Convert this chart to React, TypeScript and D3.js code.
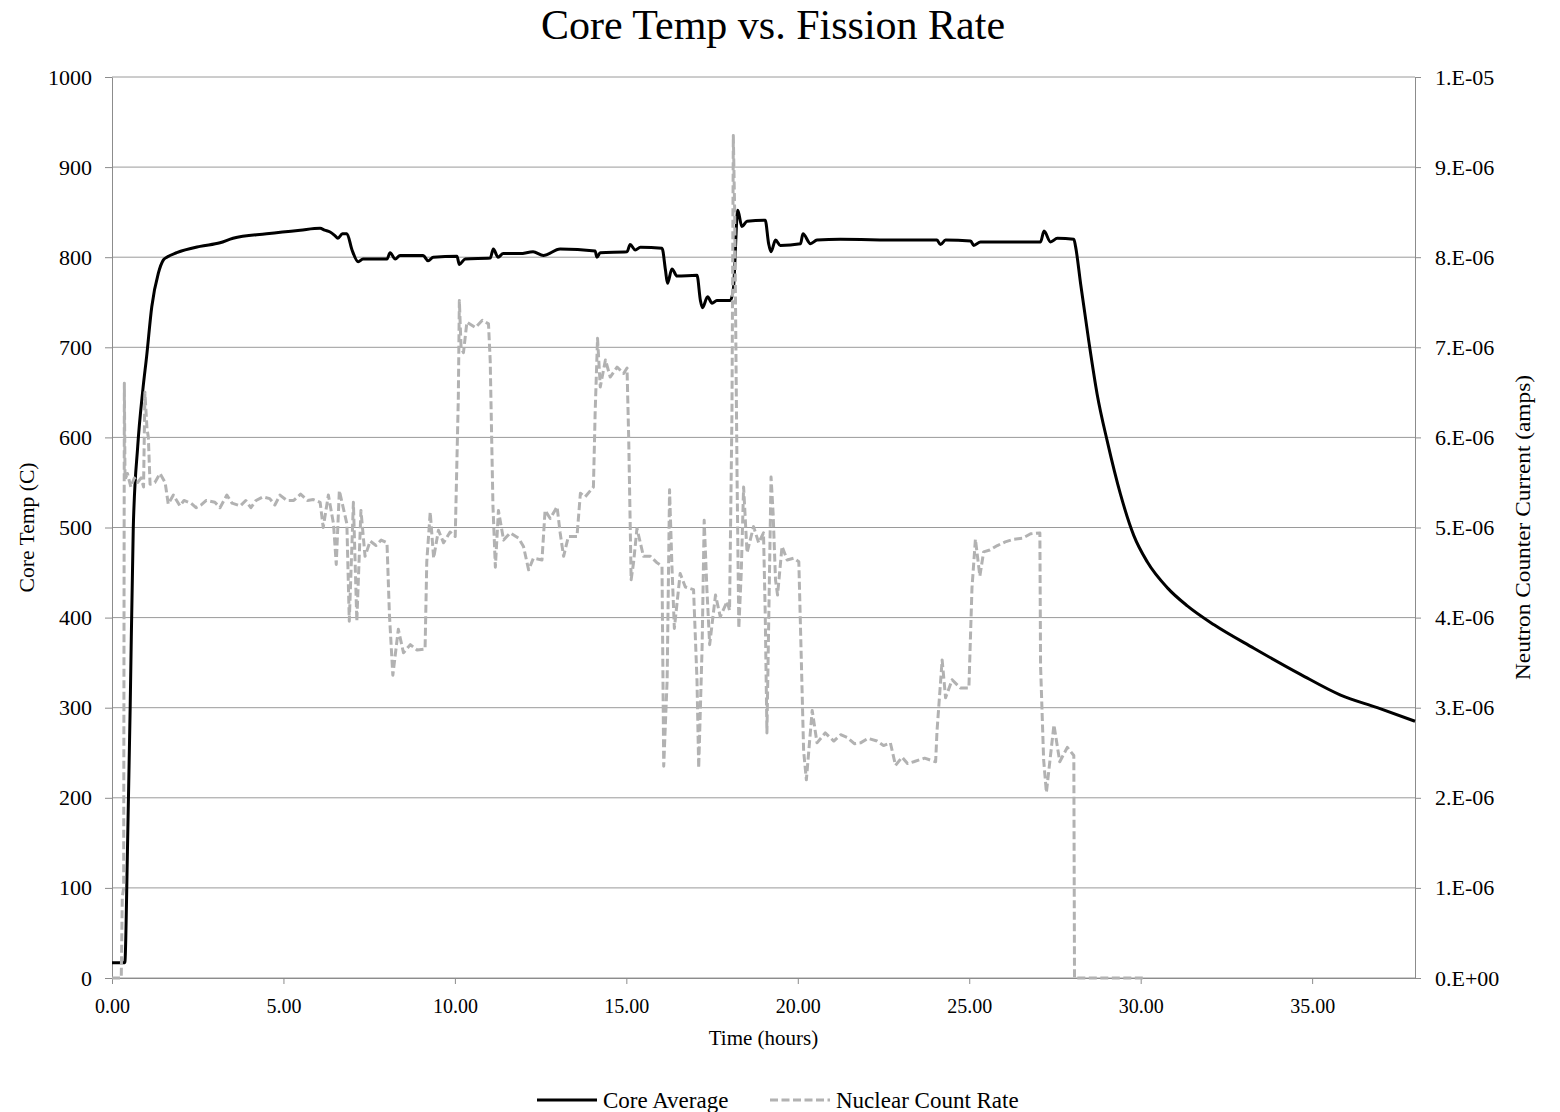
import * as React from 'react';
import * as d3 from 'd3';

// Core Average temperature (C) vs time (hours)
const coreHours = [0, 0.37, 0.38, 0.45, 0.53, 0.62, 0.75, 0.9, 1.01, 1.16, 1.35, 1.5, 1.6, 1.89, 2.57, 3.15, 3.53, 4.51, 5.49, 6.07, 6.2, 6.36, 6.5, 6.59, 6.72, 6.85, 7.0, 7.18, 7.32, 8.02, 8.11, 8.26, 8.4, 9.07, 9.22, 9.37, 10.06, 10.13, 10.3, 11.03, 11.12, 11.26, 11.41, 11.9, 12.28, 12.58, 13.07, 14.09, 14.14, 14.24, 15.02, 15.11, 15.26, 15.41, 16.04, 16.14, 16.2, 16.33, 16.48, 17.06, 17.16, 17.22, 17.37, 17.5, 17.64, 18.03, 18.12, 18.25, 18.37, 18.52, 19.05, 19.15, 19.22, 19.35, 19.49, 20.08, 20.15, 20.37, 20.56, 21.24, 23.0, 24.06, 24.16, 24.31, 25.04, 25.13, 25.33, 27.08, 27.18, 27.37, 27.57, 28.05, 28.1, 28.25, 28.49, 28.73, 29.03, 29.41, 29.8, 30.19, 30.78, 31.36, 32.14, 33.3, 34.66, 35.83, 36.9, 38.0];
const coreTemp = [17, 17, 19, 140, 300, 499, 590, 653, 690, 745, 782, 797, 800, 805, 812, 816, 821, 826, 830, 832, 830, 828, 824, 821, 826, 826, 808, 795, 798, 798, 805, 798, 802, 802, 796, 800, 801, 792, 798, 799, 809, 800, 804, 804, 806, 802, 809, 807, 800, 805, 806, 814, 808, 811, 810, 786, 771, 787, 779, 780, 752, 744, 756, 749, 752, 752, 764, 852, 834, 840, 841, 815, 806, 819, 813, 815, 826, 815, 819, 820, 819, 819, 814, 819, 818, 813, 817, 817, 829, 817, 821, 820, 812, 770, 706, 648, 595, 537, 491, 462, 433, 413, 392, 366, 337, 314, 300, 285];

// Nuclear Count Rate, neutron counter current in units of 1E-06 amps
const countHours = [0, 0.27, 0.3, 0.34, 0.36, 0.38, 0.45, 0.55, 0.65, 0.75, 0.85, 0.92, 0.96, 1.02, 1.06, 1.11, 1.25, 1.4, 1.55, 1.64, 1.79, 1.98, 2.1, 2.3, 2.45, 2.6, 2.75, 3.0, 3.15, 3.35, 3.5, 3.74, 3.9, 4.05, 4.2, 4.4, 4.6, 4.75, 4.9, 5.1, 5.3, 5.5, 5.7, 5.87, 6.07, 6.16, 6.31, 6.46, 6.54, 6.63, 6.85, 6.92, 7.04, 7.14, 7.26, 7.38, 7.53, 7.7, 7.85, 8.02, 8.09, 8.19, 8.35, 8.5, 8.7, 8.9, 9.13, 9.18, 9.28, 9.38, 9.52, 9.67, 9.86, 10.01, 10.1, 10.13, 10.18, 10.25, 10.35, 10.6, 10.8, 10.98, 11.03, 11.11, 11.18, 11.27, 11.42, 11.61, 11.86, 12.0, 12.15, 12.29, 12.54, 12.63, 12.78, 12.98, 13.07, 13.17, 13.31, 13.56, 13.66, 13.8, 14.04, 14.09, 14.16, 14.24, 14.39, 14.53, 14.73, 14.92, 15.02, 15.07, 15.14, 15.21, 15.31, 15.5, 15.7, 15.89, 16.04, 16.09, 16.19, 16.26, 16.33, 16.4, 16.57, 16.72, 16.96, 17.06, 17.11, 17.21, 17.27, 17.35, 17.43, 17.6, 17.74, 17.94, 18.01, 18.08, 18.12, 18.16, 18.23, 18.28, 18.35, 18.42, 18.52, 18.71, 18.86, 19.0, 19.05, 19.1, 19.22, 19.28, 19.35, 19.41, 19.54, 19.69, 19.88, 20.03, 20.08, 20.17, 20.25, 20.42, 20.56, 20.8, 21.05, 21.25, 21.44, 21.65, 21.83, 22.05, 22.31, 22.5, 22.7, 22.85, 23.04, 23.2, 23.38, 23.7, 24.02, 24.06, 24.21, 24.31, 24.5, 24.74, 24.99, 25.08, 25.18, 25.31, 25.42, 25.6, 25.82, 26.05, 26.3, 26.55, 26.79, 27.06, 27.08, 27.17, 27.25, 27.47, 27.64, 27.86, 28.05, 28.07, 30.1];
const countCurrent = [0, 0, 0.9, 1.0, 6.6, 5.53, 5.6, 5.45, 5.55, 5.5, 5.55, 5.45, 6.5, 6.1, 6.0, 5.48, 5.5, 5.6, 5.5, 5.26, 5.36, 5.24, 5.3, 5.27, 5.22, 5.25, 5.3, 5.28, 5.22, 5.36, 5.27, 5.24, 5.3, 5.22, 5.3, 5.34, 5.32, 5.25, 5.36, 5.3, 5.3, 5.37, 5.3, 5.31, 5.28, 5.0, 5.36, 5.04, 4.59, 5.41, 5.04, 3.96, 5.28, 3.96, 5.19, 4.68, 4.85, 4.8, 4.86, 4.83, 4.04, 3.36, 3.87, 3.61, 3.7, 3.64, 3.65, 4.62, 5.17, 4.66, 4.97, 4.83, 4.95, 4.9, 6.44, 7.52, 7.0, 6.94, 7.28, 7.22, 7.3, 7.26, 6.85, 5.24, 4.56, 5.19, 4.86, 4.94, 4.88, 4.79, 4.53, 4.66, 4.64, 5.19, 5.1, 5.23, 4.94, 4.68, 4.9, 4.9, 5.38, 5.34, 5.45, 6.27, 7.1, 6.56, 6.86, 6.67, 6.78, 6.71, 6.77, 5.97, 4.42, 4.61, 4.99, 4.68, 4.68, 4.61, 4.57, 2.35, 3.31, 5.42, 4.57, 3.88, 4.49, 4.34, 4.31, 3.31, 2.33, 3.68, 5.08, 4.31, 3.7, 4.25, 4.01, 4.18, 4.08, 6.27, 9.35, 8.5, 5.53, 3.88, 4.49, 5.45, 4.72, 5.01, 4.83, 4.94, 4.05, 2.72, 5.56, 5.16, 4.42, 4.25, 4.79, 4.64, 4.66, 4.62, 3.87, 2.52, 2.2, 2.97, 2.61, 2.72, 2.63, 2.7, 2.67, 2.6, 2.61, 2.66, 2.63, 2.58, 2.61, 2.36, 2.45, 2.38, 2.4, 2.44, 2.4, 2.74, 3.53, 3.11, 3.31, 3.22, 3.22, 4.33, 4.87, 4.46, 4.73, 4.75, 4.8, 4.84, 4.87, 4.88, 4.93, 4.94, 3.47, 2.42, 2.06, 2.81, 2.4, 2.56, 2.47, 0, 0];

const hourTicks = [0, 5, 10, 15, 20, 25, 30, 35];
const tempTicks = [0, 100, 200, 300, 400, 500, 600, 700, 800, 900, 1000];
const currentTicks = [0, 1, 2, 3, 4, 5, 6, 7, 8, 9, 10];
const currentLabels = ['0.E+00', '1.E-06', '2.E-06', '3.E-06', '4.E-06', '5.E-06', '6.E-06', '7.E-06', '8.E-06', '9.E-06', '1.E-05'];

const FONT = '"Liberation Serif", "Times New Roman", serif';
const GREY = '#b2b2b2';

export default function App() {
  const ref = React.useRef<SVGSVGElement>(null);

  React.useEffect(() => {
    const width = 1560;
    const height = 1112;
    const margin = { top: 77, right: 145, bottom: 134, left: 112 };
    const innerW = width - margin.left - margin.right;
    const innerH = height - margin.top - margin.bottom;

    const svg = d3.select(ref.current);
    svg.selectAll('*').remove();

    const x = d3.scaleLinear().domain([0, 38]).range([0, innerW]);
    const y = d3.scaleLinear().domain([0, 1000]).range([innerH, 0]);
    const yR = d3.scaleLinear().domain([0, 10]).range([innerH, 0]);

    const g = svg.append('g').attr('transform', `translate(${margin.left}, ${margin.top})`);

    // horizontal gridlines
    g.selectAll('.grid')
      .data(tempTicks)
      .enter()
      .append('line')
      .attr('class', 'grid')
      .attr('x1', 0)
      .attr('x2', innerW)
      .attr('y1', (d) => y(d))
      .attr('y2', (d) => y(d))
      .attr('stroke', '#9a9a9a')
      .attr('stroke-width', 1);

    const styleAxis = (sel, size) => {
      sel.attr('font-family', FONT).attr('font-size', size);
      sel.selectAll('path').attr('stroke', '#8c8c8c');
      sel.selectAll('line').attr('stroke', '#8c8c8c');
      sel.selectAll('text').attr('fill', '#000');
    };

    const xAxis = d3.axisBottom(x)
      .tickValues(hourTicks)
      .tickFormat((d: any) => d3.format('.2f')(d))
      .tickSize(6)
      .tickSizeOuter(0)
      .tickPadding(15);
    g.append('g').attr('transform', `translate(0, ${innerH})`).call(xAxis).call(styleAxis, 20);

    const yAxis = d3.axisLeft(y)
      .tickValues(tempTicks)
      .tickFormat((d: any) => String(d))
      .tickSize(7)
      .tickSizeOuter(0)
      .tickPadding(13);
    g.append('g').call(yAxis).call(styleAxis, 22);

    const yAxisR = d3.axisRight(yR)
      .tickValues(currentTicks)
      .tickFormat((d: any, i: number) => currentLabels[i])
      .tickSize(6)
      .tickSizeOuter(0)
      .tickPadding(14);
    g.append('g').attr('transform', `translate(${innerW}, 0)`).call(yAxisR).call(styleAxis, 22);

    // series
    const coreLine = d3.line<number>()
      .x((d, i) => x(coreHours[i]))
      .y((d) => y(d))
      .curve(d3.curveMonotoneX);
    g.append('path')
      .attr('d', coreLine(coreTemp))
      .attr('fill', 'none')
      .attr('stroke', '#000')
      .attr('stroke-width', 3)
      .attr('stroke-linejoin', 'round');

    const countLine = d3.line<number>()
      .x((d, i) => x(countHours[i]))
      .y((d) => yR(d));
    g.append('path')
      .attr('d', countLine(countCurrent))
      .attr('fill', 'none')
      .attr('stroke', GREY)
      .attr('stroke-width', 3)
      .attr('stroke-dasharray', '8,3.5')
      .attr('stroke-linejoin', 'round');

    // titles
    svg.append('text')
      .attr('x', 773)
      .attr('y', 39)
      .attr('text-anchor', 'middle')
      .attr('font-family', FONT)
      .attr('font-size', 42)
      .text('Core Temp vs. Fission Rate');

    svg.append('text')
      .attr('x', margin.left + innerW / 2)
      .attr('y', 1045)
      .attr('text-anchor', 'middle')
      .attr('font-family', FONT)
      .attr('font-size', 21)
      .text('Time (hours)');

    svg.append('text')
      .attr('transform', `translate(34, ${margin.top + innerH / 2}) rotate(-90)`)
      .attr('text-anchor', 'middle')
      .attr('font-family', FONT)
      .attr('font-size', 20)
      .attr('textLength', 130)
      .attr('lengthAdjust', 'spacingAndGlyphs')
      .text('Core Temp (C)');

    svg.append('text')
      .attr('transform', `translate(1530, ${margin.top + innerH / 2}) rotate(-90)`)
      .attr('text-anchor', 'middle')
      .attr('font-family', FONT)
      .attr('font-size', 20)
      .attr('textLength', 305)
      .attr('lengthAdjust', 'spacingAndGlyphs')
      .text('Neutron Counter Current (amps)');

    // legend
    const legend = svg.append('g').attr('font-family', FONT).attr('font-size', 23);
    legend.append('line')
      .attr('x1', 537).attr('x2', 597).attr('y1', 1100).attr('y2', 1100)
      .attr('stroke', '#000').attr('stroke-width', 3);
    legend.append('text').attr('x', 603).attr('y', 1108).text('Core Average');
    legend.append('line')
      .attr('x1', 770).attr('x2', 830).attr('y1', 1100).attr('y2', 1100)
      .attr('stroke', GREY).attr('stroke-width', 3).attr('stroke-dasharray', '8,3.5');
    legend.append('text').attr('x', 836).attr('y', 1108).text('Nuclear Count Rate');
  }, []);

  return <svg ref={ref} width={1560} height={1112} style={{ position: 'absolute', left: 0, top: 0, background: '#fff' }} />;
}
